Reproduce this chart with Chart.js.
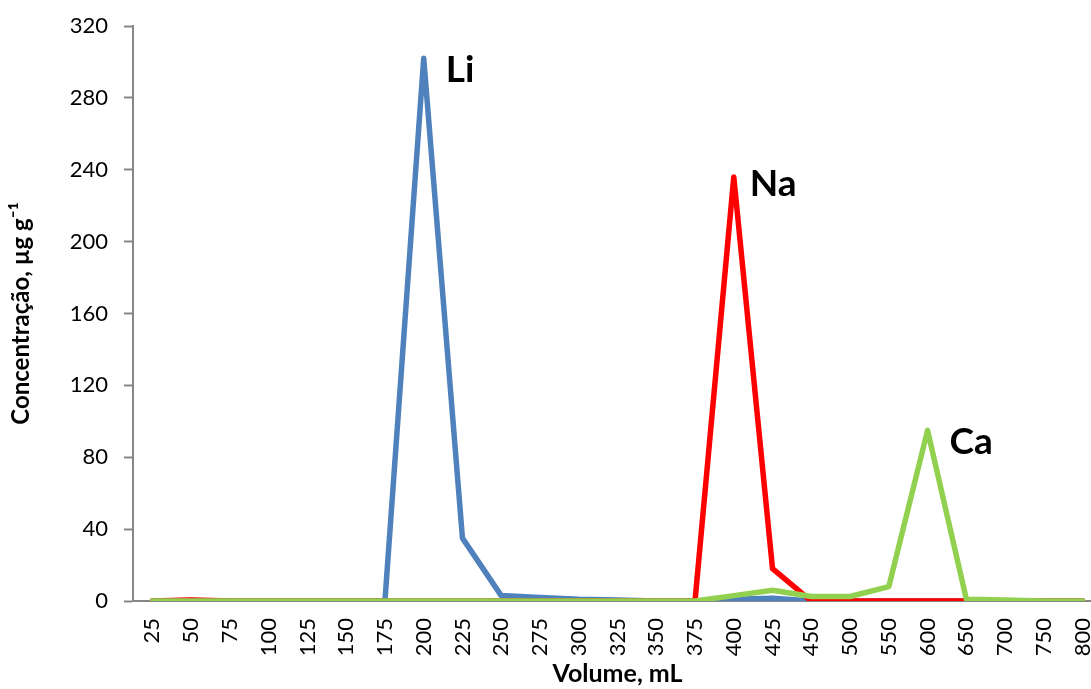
<!DOCTYPE html>
<html>
<head>
<meta charset="utf-8">
<script src="https://cdn.jsdelivr.net/npm/chart.js@4/dist/chart.umd.min.js"></script>
<style>
  html, body { margin: 0; padding: 0; background: #ffffff; overflow: hidden; }
  #wrap { position: relative; width: 1110px; height: 689px; }
</style>
</head>
<body>
<div id="wrap"><canvas id="chart"></canvas></div>
<script>
// Eluted volume (mL) for each collected fraction
const volumes = ['25','50','75','100','125','150','175','200','225','250','275','300','325','350','375','400','425','450','500','550','600','650','700','750','800'];

// Concentration of each element per fraction (µg g-1)
const liValues = [0, 0.3, 0, 0, 0, 0, 0, 302, 35, 3, 2, 1, 0.5, 0, 0, 1, 1.5, 0, 0, 0, 0, 0, 0, 0, 0];
const naValues = [0, 0.5, 0, 0, 0, 0, 0, 0, 0, 0, 0, 0, 0, 0, 0, 236, 18, 0, 0, 0, 0, 0, 0, 0, 0];
const caValues = [0, 0, 0, 0, 0, 0, 0, 0, 0, 0, 0, 0, 0, 0, 0, 3, 6, 2.5, 2.5, 8, 95, 1, 0.5, 0, 0];

// Y axis ticks
const yTicks = [0, 40, 80, 120, 160, 200, 240, 280, 320];

const axisGray = '#868686';
const fontFamily = 'Lato, "Open Sans", sans-serif';

// Writes the element symbol beside the peak of each series
const peakLabels = {
  id: 'peakLabels',
  afterDatasetsDraw(chart) {
    const ctx = chart.ctx;
    ctx.save();
    ctx.font = 'bold 37px ' + fontFamily;
    ctx.fillStyle = '#000000';
    ctx.textAlign = 'left';
    ctx.textBaseline = 'middle';
    chart.data.datasets.forEach((ds, i) => {
      const meta = chart.getDatasetMeta(i);
      let peak = 0;
      ds.data.forEach((v, j) => { if (v > ds.data[peak]) peak = j; });
      const pt = meta.data[peak];
      ctx.fillText(ds.label, pt.x + ds.labelDx, pt.y + ds.labelDy);
    });
    ctx.restore();
  }
};

new Chart(document.getElementById('chart'), {
  type: 'line',
  data: {
    labels: volumes,
    datasets: [
      { label: 'Ca', data: caValues, borderColor: '#92D050', order: 0, labelDx: 22, labelDy: 12 },
      { label: 'Na', data: naValues, borderColor: '#FF0000', order: 1, labelDx: 16, labelDy: 7 },
      { label: 'Li', data: liValues, borderColor: '#4F81BD', order: 2, labelDx: 22, labelDy: 12 }
    ].map(d => Object.assign({
      borderWidth: 5.5,
      pointRadius: 0,
      pointHoverRadius: 0,
      tension: 0,
      fill: false,
      borderJoinStyle: 'round',
      borderCapStyle: 'round'
    }, d))
  },
  options: {
    responsive: true,
    maintainAspectRatio: false,
    animation: false,
    layout: { padding: { top: 26, right: 8, left: 0, bottom: 0 } },
    plugins: {
      legend: { display: false },
      tooltip: { enabled: false }
    },
    scales: {
      x: {
        type: 'category',
        offset: true,
        grid: { display: false, drawTicks: false },
        border: { display: true, color: axisGray, width: 2 },
        ticks: {
          autoSkip: false,
          maxRotation: 90,
          minRotation: 90,
          padding: 17,
          color: '#000000',
          font: { family: fontFamily, size: 22 }
        },
        title: {
          display: true,
          text: 'Volume, mL',
          color: '#000000',
          font: { family: fontFamily, size: 25, weight: 'bold' },
          padding: { top: 0, bottom: 0 }
        },
        afterFit(scale) {
          scale.height = 88;
          scale.paddingLeft = 0;
          scale.paddingRight = 0;
        }
      },
      y: {
        min: 0,
        max: 320,
        afterBuildTicks(scale) {
          scale.ticks = yTicks.map(v => ({ value: v }));
        },
        grid: {
          drawOnChartArea: false,
          drawTicks: true,
          tickLength: 9,
          tickWidth: 2,
          tickColor: axisGray
        },
        border: { display: true, color: axisGray, width: 2 },
        ticks: {
          padding: 16,
          color: '#000000',
          font: { family: fontFamily, size: 22 }
        },
        title: {
          display: true,
          text: 'Concentração, µg g⁻¹',
          color: '#000000',
          font: { family: fontFamily, size: 24, weight: 'bold' },
          padding: { top: 7, bottom: 0 }
        },
        afterFit(scale) {
          scale.width = 133;
          scale.paddingTop = 0;
          scale.paddingBottom = 0;
        }
      }
    }
  },
  plugins: [peakLabels]
});
</script>
</body>
</html>
